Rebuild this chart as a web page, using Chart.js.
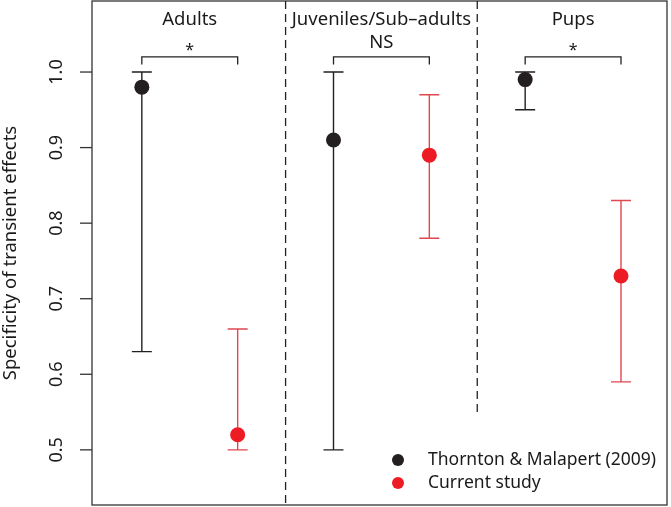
<!DOCTYPE html>
<html lang="en">
<head>
    <meta charset="UTF-8">
    <title>Specificity of transient effects</title>
    <script src="https://cdn.jsdelivr.net/npm/chart.js"></script>
    <style>
        body { margin: 0; background: #fff; }
        #box { width: 671px; height: 507px; }
    </style>
</head>
<body>
    <div id="box">
        <canvas id="myChart" width="671" height="507"></canvas>
    </div>

<script>
    // dados
    var grupos = ['Adults', 'Juveniles/Sub\u2013adults', 'Pups'];
    var signif = ['*', 'NS', '*'];
    var seriesNomes = ['Thornton & Malapert (2009)', 'Current study'];

    var thorntonMedia = [0.98, 0.91, 0.99];
    var thorntonMin = [0.63, 0.50, 0.95];
    var thorntonMax = [1.00, 1.00, 1.00];

    var atualMedia = [0.52, 0.89, 0.73];
    var atualMin = [0.50, 0.78, 0.59];
    var atualMax = [0.66, 0.97, 0.83];

    var yTicks = [0.5, 0.6, 0.7, 0.8, 0.9, 1.0];

    var corPreto = '#231f20';
    var corVermelho = '#ed1c24';
    var corBarraVermelha = '#e0474f';
    var corTexto = '#1a1a1a';
    var fonte = '"Noto Sans", "Open Sans", sans-serif';

    function montarPontos(medias, min, max, offset) {
        var pts = [];
        for (var i = 0; i < medias.length; i++) {
            pts.push({ x: i * 2 + 1 + offset, y: medias[i], lo: min[i], hi: max[i] });
        }
        return pts;
    }

    var barrasErro = {
        id: 'barrasErro',
        beforeDatasetsDraw: function (chart) {
            var ctx = chart.ctx;
            var xs = chart.scales.x, ys = chart.scales.y;
            chart.data.datasets.forEach(function (ds) {
                ctx.save();
                ctx.strokeStyle = ds.barColor;
                ctx.lineWidth = 1.4;
                ds.data.forEach(function (p) {
                    var px = xs.getPixelForValue(p.x);
                    var y1 = ys.getPixelForValue(p.lo);
                    var y2 = ys.getPixelForValue(p.hi);
                    ctx.beginPath();
                    ctx.moveTo(px, y1); ctx.lineTo(px, y2);
                    ctx.moveTo(px - 10, y1); ctx.lineTo(px + 10, y1);
                    ctx.moveTo(px - 10, y2); ctx.lineTo(px + 10, y2);
                    ctx.stroke();
                });
                ctx.restore();
            });
        },
        afterDraw: function (chart) {
            var ctx = chart.ctx;
            var a = chart.chartArea;
            var xs = chart.scales.x, ys = chart.scales.y;
            ctx.save();

            // caixa
            ctx.strokeStyle = '#333';
            ctx.lineWidth = 1.3;
            ctx.strokeRect(a.left, a.top, a.right - a.left, a.bottom - a.top);

            // eixo y
            ctx.fillStyle = corTexto;
            ctx.font = '18px ' + fonte;
            yTicks.forEach(function (t) {
                var py = ys.getPixelForValue(t);
                ctx.beginPath();
                ctx.moveTo(a.left - 12, py); ctx.lineTo(a.left, py);
                ctx.stroke();
                ctx.save();
                ctx.translate(57, py);
                ctx.rotate(-Math.PI / 2);
                ctx.textAlign = 'center';
                ctx.textBaseline = 'middle';
                ctx.fillText(t.toFixed(1), 0, 0);
                ctx.restore();
            });
            ctx.save();
            ctx.font = '18.5px ' + fonte;
            ctx.translate(11, (a.top + a.bottom) / 2);
            ctx.rotate(-Math.PI / 2);
            ctx.textAlign = 'center';
            ctx.textBaseline = 'middle';
            ctx.fillText('Specificity of transient effects', 0, 0);
            ctx.restore();

            // divisorias tracejadas
            ctx.setLineDash([8, 5]);
            ctx.strokeStyle = '#222';
            ctx.beginPath();
            ctx.moveTo(xs.getPixelForValue(2.5), a.top);
            ctx.lineTo(xs.getPixelForValue(2.5), a.bottom);
            ctx.moveTo(xs.getPixelForValue(4.5), a.top);
            ctx.lineTo(xs.getPixelForValue(4.5), ys.getPixelForValue(0.55));
            ctx.stroke();
            ctx.setLineDash([]);

            // titulos e colchetes
            ctx.textAlign = 'center';
            ctx.textBaseline = 'middle';
            for (var i = 0; i < grupos.length; i++) {
                var x1 = xs.getPixelForValue(i * 2 + 1);
                var x2 = xs.getPixelForValue(i * 2 + 2);
                var mid = (x1 + x2) / 2;
                ctx.font = '18.5px ' + fonte;
                ctx.fillText(grupos[i], mid, 20);

                var yTop = ys.getPixelForValue(1.02);
                var yEnd = ys.getPixelForValue(1.01);
                ctx.lineWidth = 1.3;
                ctx.beginPath();
                ctx.moveTo(x1, yEnd); ctx.lineTo(x1, yTop);
                ctx.lineTo(x2, yTop); ctx.lineTo(x2, yEnd);
                ctx.stroke();

                if (signif[i] == '*') {
                    ctx.font = '16px ' + fonte;
                    ctx.fillText('*', mid, 50);
                } else {
                    ctx.font = '18.5px ' + fonte;
                    ctx.fillText(signif[i], mid, 43);
                }
            }

            // legenda
            var cores = [corPreto, corVermelho];
            ctx.textAlign = 'left';
            ctx.font = '17.5px ' + fonte;
            for (var j = 0; j < seriesNomes.length; j++) {
                var ly = 460 + j * 23;
                ctx.fillStyle = cores[j];
                ctx.beginPath();
                ctx.arc(398, ly, 6, 0, Math.PI * 2);
                ctx.fill();
                ctx.fillStyle = corTexto;
                ctx.fillText(seriesNomes[j], 428, ly);
            }
            ctx.restore();
        }
    };

    var ctx = document.getElementById('myChart').getContext('2d');
    var grafico = new Chart(ctx, {
        type: 'scatter',
        data: {
            datasets: [
                {
                    label: seriesNomes[0],
                    data: montarPontos(thorntonMedia, thorntonMin, thorntonMax, 0),
                    backgroundColor: corPreto,
                    barColor: corPreto,
                    pointRadius: 7.5,
                    borderWidth: 0
                },
                {
                    label: seriesNomes[1],
                    data: montarPontos(atualMedia, atualMin, atualMax, 1),
                    backgroundColor: corVermelho,
                    barColor: corBarraVermelha,
                    pointRadius: 7.5,
                    borderWidth: 0
                }
            ]
        },
        options: {
            responsive: false,
            animation: false,
            layout: { autoPadding: false, padding: { left: 92, top: 1, right: 4, bottom: 2 } },
            plugins: { legend: { display: false }, tooltip: { enabled: false } },
            scales: {
                x: { type: 'linear', min: 0.48, max: 6.48, display: false },
                y: { min: 0.427, max: 1.094, display: false }
            }
        },
        plugins: [barrasErro]
    });
</script>
</body>
</html>
